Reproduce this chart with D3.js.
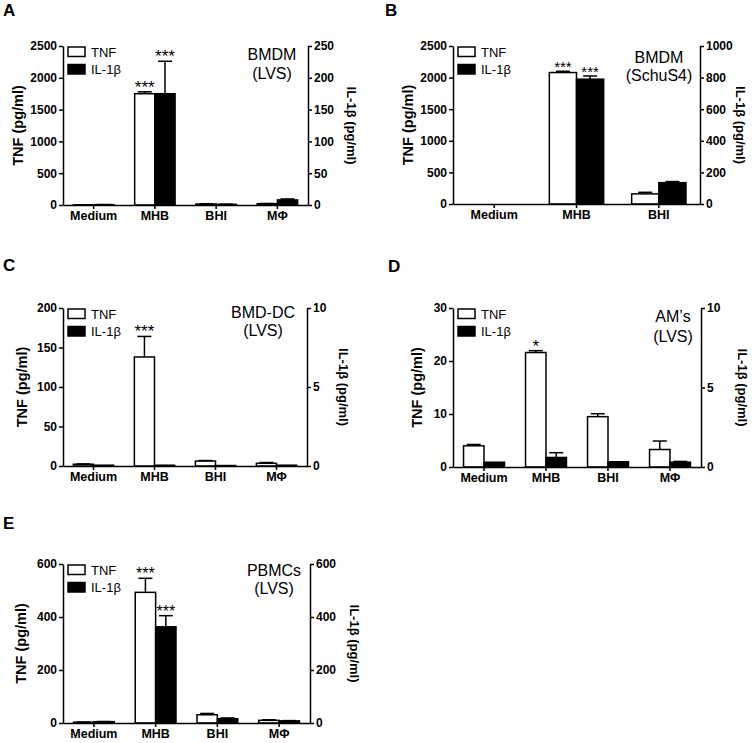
<!DOCTYPE html>
<html><head><meta charset="utf-8">
<script src="https://cdn.jsdelivr.net/npm/d3@7"></script>
<style>body{margin:0;background:#fff}text{font-family:"Liberation Sans",Arial,sans-serif}</style>
</head><body>
<svg id="c" width="753" height="743"></svg>
<script>
// ---- data ----
const catsA = ["Medium","MHB","BHI","MΦ"];
const tnfA = [3, 1750, 15, 20], tnfErrA = [1, 30, 4, 4];
const ilA = [0.5, 175, 1, 8], ilErrA = [0.2, 51, 0.3, 1.5];
const starsTnfA = ["", "***", "", ""], starsIlA = ["", "***", "", ""];

const catsB = ["Medium","MHB","BHI"];
const tnfB = [0, 2080, 160], tnfErrB = [0, 20, 25];
const ilB = [0, 790, 135], ilErrB = [0, 20, 7];
const starsTnfB = ["", "***", ""], starsIlB = ["", "***", ""];

const catsC = ["Medium","MHB","BHI","MΦ"];
const tnfC = [2.2, 138, 6.3, 3.4], tnfErrC = [0.4, 26, 0.6, 1];
const ilC = [0.05, 0.05, 0.03, 0.05], ilErrC = [0, 0, 0, 0];
const starsTnfC = ["", "***", "", ""], starsIlC = ["", "", "", ""];

const catsD = ["Medium","MHB","BHI","MΦ"];
const tnfD = [4.0, 21.6, 9.5, 3.3], tnfErrD = [0.25, 0.35, 0.55, 1.6];
const ilD = [0.3, 0.6, 0.33, 0.3], ilErrD = [0, 0.3, 0, 0.05];
const starsTnfD = ["", "*", "", ""], starsIlD = ["", "", "", ""];

const catsE = ["Medium","MHB","BHI","MΦ"];
const tnfE = [3, 493, 31, 10], tnfErrE = [0.5, 53, 5, 2];
const ilE = [5, 363, 16, 8], ilErrE = [0.5, 42, 3, 1];
const starsTnfE = ["", "***", "", ""], starsIlE = ["", "***", "", ""];

const tnfTicksA = [0,500,1000,1500,2000,2500], ilTicksA = [0,50,100,150,200,250];
const tnfTicksB = [0,500,1000,1500,2000,2500], ilTicksB = [0,200,400,600,800,1000];
const tnfTicksC = [0,50,100,150,200], ilTicksC = [0,5,10];
const tnfTicksD = [0,10,20,30], ilTicksD = [0,5,10];
const tnfTicksE = [0,200,400,600], ilTicksE = [0,200,400,600];

const legendLabels = ["TNF", "IL-1β"];
const leftTitle = "TNF (pg/ml)", rightTitle = "IL-1β (pg/ml)";

// ---- layout ----
const panels = [
  {id:"A", cats:catsA, tnf:tnfA, tnfErr:tnfErrA, il:ilA, ilErr:ilErrA, st:starsTnfA, si:starsIlA,
   tT:tnfTicksA, iT:ilTicksA, title:["BMDM","(LVS)"],
   L:63, R:308, T:46, B:205, idx:[3,16], titleX:-36, titleY:[60,79], starFs:17, lt:-45, rt:43},
  {id:"B", cats:catsB, tnf:tnfB, tnfErr:tnfErrB, il:ilB, ilErr:ilErrB, st:starsTnfB, si:starsIlB,
   tT:tnfTicksB, iT:ilTicksB, title:["BMDM","(SchuS4)"],
   L:453, R:700, T:46, B:204, idx:[385,16], titleX:-41, titleY:[63,81], starFs:15, lt:-45, rt:40},
  {id:"C", cats:catsC, tnf:tnfC, tnfErr:tnfErrC, il:ilC, ilErr:ilErrC, st:starsTnfC, si:starsIlC,
   tT:tnfTicksC, iT:ilTicksC, title:["BMD-DC","(LVS)"],
   L:63, R:307, T:308, B:466, idx:[3,271], titleX:-44, titleY:[318,336], starFs:17, lt:-41, rt:36},
  {id:"D", cats:catsD, tnf:tnfD, tnfErr:tnfErrD, il:ilD, ilErr:ilErrD, st:starsTnfD, si:starsIlD,
   tT:tnfTicksD, iT:ilTicksD, title:["AM’s","(LVS)"],
   L:453, R:701, T:308, B:467, idx:[388,272], titleX:-28, titleY:[322,342], starFs:17, lt:-36, rt:41},
  {id:"E", cats:catsE, tnf:tnfE, tnfErr:tnfErrE, il:ilE, ilErr:ilErrE, st:starsTnfE, si:starsIlE,
   tT:tnfTicksE, iT:ilTicksE, title:["PBMCs","(LVS)"],
   L:63, R:310, T:564, B:723, idx:[3,529], titleX:-36, titleY:[576,594], starFs:16, lt:-42, rt:44}
];

const svg = d3.select("#c");
const SW = 1.5;
const fmt = d3.format("d");

panels.forEach(p => {
  const g = svg.append("g");
  const x = d3.scaleBand().domain(p.cats).range([p.L, p.R]).padding(0);
  const yL = d3.scaleLinear().domain([0, d3.max(p.tT)]).range([p.B, p.T]);
  const yR = d3.scaleLinear().domain([0, d3.max(p.iT)]).range([p.B, p.T]);
  const bw = x.bandwidth() * 0.33;

  g.append("text").attr("x", p.idx[0]).attr("y", p.idx[1]).attr("font-size", 17)
    .attr("font-weight", "bold").text(p.id);

  const series = [
    {vals:p.tnf, err:p.tnfErr, y:yL, fill:"#fff", off:-1, stars:p.st},
    {vals:p.il, err:p.ilErr, y:yR, fill:"#000", off:0, stars:p.si}
  ];
  series.forEach(s => {
    p.cats.forEach((c, i) => {
      const cx = x(c) + x.bandwidth()/2;
      const x0 = cx + s.off*bw;
      const yv = s.y(s.vals[i]);
      g.append("rect").attr("x", x0).attr("y", yv).attr("width", bw)
        .attr("height", p.B - yv).attr("fill", s.fill).attr("stroke", "#000").attr("stroke-width", SW);
      const bc = x0 + bw/2;
      const ye = s.y(s.vals[i] + s.err[i]);
      if (s.err[i] > 0) {
        g.append("line").attr("x1", bc).attr("x2", bc).attr("y1", yv).attr("y2", ye)
          .attr("stroke", "#000").attr("stroke-width", SW);
        g.append("line").attr("x1", bc - 7).attr("x2", bc + 7).attr("y1", ye).attr("y2", ye)
          .attr("stroke", "#000").attr("stroke-width", SW);
      }
      if (s.stars[i]) {
        g.append("text").attr("x", bc).attr("y", ye + 1).attr("text-anchor", "middle")
          .attr("font-size", p.starFs).text(s.stars[i]);
      }
    });
  });

  const axL = g.append("g").attr("transform", `translate(${p.L},0)`)
    .call(d3.axisLeft(yL).tickValues(p.tT).tickFormat(fmt).tickSize(4).tickSizeOuter(0).tickPadding(2));
  const axR = g.append("g").attr("transform", `translate(${p.R},0)`)
    .call(d3.axisRight(yR).tickValues(p.iT).tickFormat(fmt).tickSize(4).tickSizeOuter(0).tickPadding(2));
  const axB = g.append("g").attr("transform", `translate(0,${p.B})`)
    .call(d3.axisBottom(x).tickSize(4).tickSizeOuter(0).tickPadding(2));
  [axL, axR, axB].forEach(a => {
    a.select(".domain").attr("stroke-width", SW);
    a.selectAll(".tick line").attr("stroke-width", SW);
    a.selectAll("text").attr("font-size", 12).attr("font-weight", "bold")
      .attr("font-family", '"Liberation Sans",Arial,sans-serif').attr("fill", "#000");
  });
  axB.selectAll("text").attr("font-size", 12.5);

  const cy = (p.T + p.B) / 2;
  g.append("text").attr("transform", `translate(${p.L + p.lt},${cy}) rotate(-90)`)
    .attr("text-anchor", "middle").attr("dominant-baseline", "central")
    .attr("font-size", 14.5).attr("font-weight", "bold").text(leftTitle);
  g.append("text").attr("transform", `translate(${p.R + p.rt},${cy}) rotate(90)`)
    .attr("text-anchor", "middle").attr("dominant-baseline", "central")
    .attr("font-size", 13).attr("font-weight", "bold").text(rightTitle);

  const lx = p.L + 5;
  legendLabels.forEach((lab, k) => {
    const ly = p.T + 1 + k * 17.5;
    g.append("rect").attr("x", lx).attr("y", ly).attr("width", 17).attr("height", 9.5)
      .attr("fill", k === 0 ? "#fff" : "#000").attr("stroke", "#000").attr("stroke-width", SW);
    g.append("text").attr("x", lx + 23).attr("y", ly + 9.5).attr("font-size", 13).text(lab);
  });

  p.title.forEach((t, k) => {
    g.append("text").attr("x", p.R + p.titleX).attr("y", p.titleY[k])
      .attr("text-anchor", "middle").attr("font-size", 16).text(t);
  });
});
</script>
</body></html>
